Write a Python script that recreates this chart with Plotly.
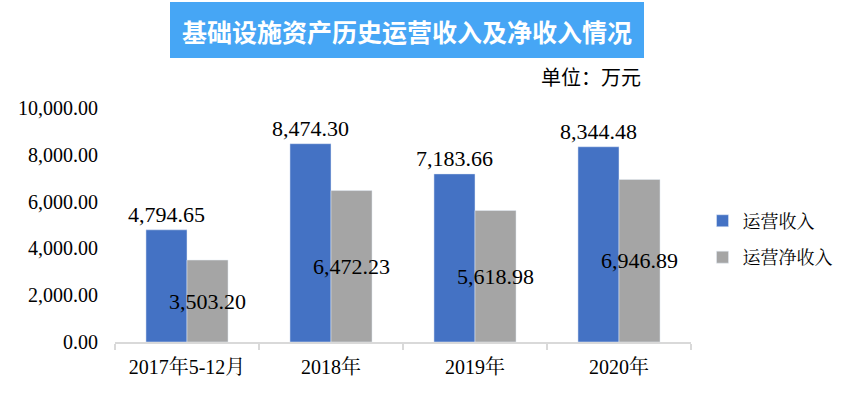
import plotly.graph_objects as go

categories = ["2017年5-12月", "2018年", "2019年", "2020年"]
revenue = [4794.65, 8474.30, 7183.66, 8344.48]
net_revenue = [3503.20, 6472.23, 5618.98, 6946.89]
series_names = ["运营收入", "运营净收入"]
y_ticks = [0, 2000, 4000, 6000, 8000, 10000]

serif = "Liberation Serif, Times New Roman, Noto Serif CJK SC, Noto Sans CJK SC, serif"

fig = go.Figure()
fig.add_trace(go.Bar(
    x=categories, y=revenue, name=series_names[0], legendgroup="a",
    marker_color="#4472C4",
    text=[f"{v:,.2f}" for v in revenue], textposition="outside", textangle=0,
    textfont=dict(family=serif, size=22, color="#000000"),
    cliponaxis=False,
))
fig.add_trace(go.Bar(
    x=categories, y=net_revenue, name=series_names[1], legendgroup="b",
    marker_color="#A5A5A5",
    text=[f"{v:,.2f}" for v in net_revenue], textposition="inside", textangle=0,
    insidetextanchor="middle",
    textfont=dict(family=serif, size=22, color="#000000"),
    constraintext="none",
))

fig.update_layout(
    width=864, height=394,
    margin=dict(l=115, r=173, t=108, b=52),
    paper_bgcolor="white", plot_bgcolor="white",
    barmode="group", bargap=0.43, bargroupgap=0,
    uniformtext=dict(minsize=22, mode="show"),
    font=dict(family=serif, color="#000000"),
    legend=dict(x=1.02, y=0.44, xanchor="left", yanchor="middle",
                font=dict(family="Noto Serif CJK SC, Noto Sans CJK SC", size=18, color="#000000"),
                tracegroupgap=10, itemwidth=30),
    showlegend=True,
    xaxis=dict(
        showline=True, linecolor="#D9D9D9", linewidth=2,
        ticks="outside", tickson="boundaries", tickcolor="#D9D9D9", ticklen=6, tickwidth=2,
        tickfont=dict(family=serif, size=20, color="#000000"),
        ticklabelstandoff=6,
    ),
    yaxis=dict(
        range=[0, 10000], tickvals=y_ticks,
        ticktext=[f"{v:,.2f}" for v in y_ticks],
        showgrid=False, zeroline=False, showline=False,
        tickfont=dict(family=serif, size=20, color="#000000"),
        ticklabelstandoff=16,
    ),
    shapes=[dict(type="rect", xref="paper", yref="paper",
                 x0=(170 - 115) / 576, x1=(644 - 115) / 576,
                 y0=(342 - 58) / 234, y1=(342 - 2) / 234,
                 fillcolor="#46A6F5", line=dict(width=0), layer="below")],
    annotations=[
        dict(text="<b>基础设施资产历史运营收入及净收入情况</b>", xref="paper", yref="paper",
             x=(407 - 115) / 576, y=(342 - 31) / 234, xanchor="center", yanchor="middle",
             showarrow=False, font=dict(family="Noto Sans CJK SC", size=25, color="white")),
        dict(text="单位：万元", xref="paper", yref="paper",
             x=(643 - 115) / 576, y=(342 - 76) / 234, xanchor="right", yanchor="middle",
             showarrow=False, font=dict(family="Noto Sans CJK SC", size=20, color="#000000")),
    ],
)

fig.write_html("out.html")
